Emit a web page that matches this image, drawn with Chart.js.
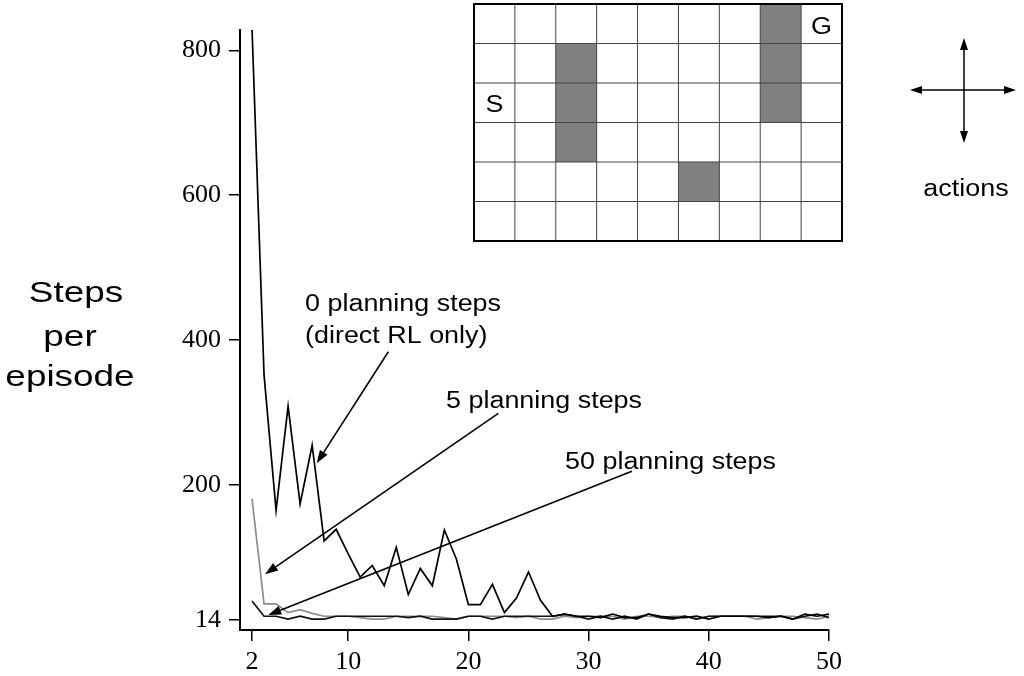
<!DOCTYPE html>
<html lang="en">
<head>
<meta charset="utf-8">
<title>Dyna maze: steps per episode</title>
<script src="https://cdn.jsdelivr.net/npm/chart.js"></script>
<style>
  html, body { margin: 0; padding: 0; background: #fff; }
  #wrap { width: 1024px; height: 676px; }
</style>
</head>
<body>
<div id="wrap"><canvas id="chart" width="1024" height="676"></canvas></div>

<script>
  // Episodes 2..50 (episode 1 left out, as in the book)
  const episodes = [];
  for (let e = 2; e <= 50; e++) episodes.push(e);

  // Steps per episode
  const zeroPlanning = [
    830, 352, 165, 309, 174, 255, 123, 139, 105, 73,
    89, 61, 114, 49, 85, 61, 138, 98, 35, 35,
    63, 24, 44, 80, 41, 19, 22, 19, 19, 17,
    22, 17, 17, 22, 19, 17, 17, 19, 15, 19,
    19, 19, 19, 17, 19, 15, 22, 19, 22
  ];
  const fivePlanning = [
    181, 36, 36, 24, 28, 23, 19, 19, 19, 17,
    15, 15, 19, 19, 19, 19, 17, 15, 19, 19,
    19, 19, 17, 19, 15, 15, 19, 17, 19, 19,
    19, 15, 19, 19, 17, 19, 19, 15, 19, 19,
    19, 19, 15, 17, 19, 19, 17, 15, 19
  ];
  const fiftyPlanning = [
    40, 19, 19, 15, 19, 15, 15, 19, 19, 19,
    19, 19, 19, 17, 19, 15, 15, 15, 19, 19,
    15, 19, 19, 19, 19, 19, 22, 19, 15, 19,
    15, 19, 15, 22, 17, 15, 19, 15, 19, 19,
    19, 19, 19, 19, 19, 15, 19, 22, 17
  ];

  const xTicks = [2, 10, 20, 30, 40, 50];
  const yTicks = [14, 200, 400, 600, 800];

  // Callouts: text anchor and arrow tail/tip, in data units
  const callouts = [
    { lines: ['0 planning steps', '(direct RL only)'], at: [6.41, 440],
      tail: [13.34, 384], tip: [7.38, 230] },
    { lines: ['5 planning steps'], at: [18.14, 306],
      tail: [22.49, 299], tip: [3.08, 77] },
    { lines: ['50 planning steps'], at: [28.04, 222],
      tail: [33.6, 219], tip: [3.35, 20.7] }
  ];

  // Gridworld inset
  const mazeCols = 9, mazeRows = 6;
  const mazeWalls = [[2, 1], [2, 2], [2, 3], [7, 0], [7, 1], [7, 2], [5, 4]];
  const mazeStart = [0, 2], mazeGoal = [8, 0];

  const SANS = '"Liberation Sans", Arial, Helvetica, sans-serif';
  const SERIF = '"Liberation Serif", "Times New Roman", serif';
  const STRETCH = 1.17;

  function wideText(ctx, text, x, y, size, sx, align) {
    ctx.save();
    ctx.font = size + 'px ' + SANS;
    ctx.fillStyle = '#000';
    ctx.textBaseline = 'alphabetic';
    ctx.textAlign = align;
    ctx.translate(x, y);
    ctx.scale(sx, 1);
    ctx.fillText(text, 0, 0);
    ctx.restore();
  }

  function arrow(ctx, x1, y1, x2, y2, len, half) {
    const a = Math.atan2(y2 - y1, x2 - x1);
    const bx = x2 - len * Math.cos(a), by = y2 - len * Math.sin(a);
    ctx.beginPath();
    ctx.moveTo(x1, y1);
    ctx.lineTo(bx, by);
    ctx.stroke();
    ctx.beginPath();
    ctx.moveTo(x2, y2);
    ctx.lineTo(bx + half * Math.sin(a), by - half * Math.cos(a));
    ctx.lineTo(bx - half * Math.sin(a), by + half * Math.cos(a));
    ctx.closePath();
    ctx.fill();
  }

  function drawMaze(ctx) {
    const left = 474, top = 4, w = 368, h = 237;
    const cw = w / mazeCols, ch = h / mazeRows;
    ctx.save();
    ctx.fillStyle = '#808080';
    mazeWalls.forEach(([c, r]) => ctx.fillRect(left + c * cw, top + r * ch, cw, ch));
    ctx.strokeStyle = '#444';
    ctx.lineWidth = 1;
    for (let c = 1; c < mazeCols; c++) {
      ctx.beginPath();
      ctx.moveTo(left + c * cw, top);
      ctx.lineTo(left + c * cw, top + h);
      ctx.stroke();
    }
    for (let r = 1; r < mazeRows; r++) {
      ctx.beginPath();
      ctx.moveTo(left, top + r * ch);
      ctx.lineTo(left + w, top + r * ch);
      ctx.stroke();
    }
    ctx.strokeStyle = '#000';
    ctx.lineWidth = 2;
    ctx.strokeRect(left, top, w, h);
    wideText(ctx, 'S', left + (mazeStart[0] + 0.5) * cw, top + mazeStart[1] * ch + 29, 23, STRETCH, 'center');
    wideText(ctx, 'G', left + (mazeGoal[0] + 0.5) * cw, top + mazeGoal[1] * ch + 30, 23, STRETCH, 'center');
    ctx.restore();

    // actions cross
    ctx.save();
    ctx.strokeStyle = '#000';
    ctx.fillStyle = '#000';
    ctx.lineWidth = 1.5;
    const cx = 964, cy = 90;
    arrow(ctx, cx, cy, cx - 54, cy, 12, 4);
    arrow(ctx, cx, cy, cx + 52, cy, 12, 4);
    arrow(ctx, cx, cy, cx, cy - 52, 12, 4);
    arrow(ctx, cx, cy, cx, cy + 53, 12, 4);
    ctx.restore();
    wideText(ctx, 'actions', 966, 196, 23, STRETCH, 'center');
  }

  const overlay = {
    id: 'overlay',
    afterDraw(chart) {
      const ctx = chart.ctx;
      const xs = chart.scales.x, ys = chart.scales.y;

      // y axis title
      wideText(ctx, 'Steps', 76, 302, 30, 1.23, 'center');
      wideText(ctx, 'per', 70, 346, 30, 1.23, 'center');
      wideText(ctx, 'episode', 70, 386, 30, 1.23, 'center');

      // callouts
      callouts.forEach(c => {
        const tx = xs.getPixelForValue(c.at[0]);
        const ty = ys.getPixelForValue(c.at[1]);
        c.lines.forEach((t, i) => wideText(ctx, t, tx, ty + i * 32, 23, STRETCH, 'left'));
        ctx.save();
        ctx.strokeStyle = '#000';
        ctx.fillStyle = '#000';
        ctx.lineWidth = 1.6;
        arrow(ctx,
          xs.getPixelForValue(c.tail[0]), ys.getPixelForValue(c.tail[1]),
          xs.getPixelForValue(c.tip[0]), ys.getPixelForValue(c.tip[1]), 13, 4.5);
        ctx.restore();
      });

      drawMaze(ctx);
    }
  };

  const pts = arr => episodes.map((e, i) => ({ x: e, y: arr[i] }));

  new Chart(document.getElementById('chart'), {
    type: 'line',
    data: {
      datasets: [
        { label: '0 planning steps', data: pts(zeroPlanning), borderColor: '#000', order: 1 },
        { label: '50 planning steps', data: pts(fiftyPlanning), borderColor: '#111', order: 2 },
        { label: '5 planning steps', data: pts(fivePlanning), borderColor: '#8c8c8c', order: 3 }
      ]
    },
    options: {
      responsive: false,
      animation: false,
      layout: { padding: { top: 30, right: 195, left: 0, bottom: 0 } },
      elements: {
        line: { borderWidth: 1.7, tension: 0, fill: false },
        point: { radius: 0, hoverRadius: 0 }
      },
      plugins: { legend: { display: false }, tooltip: { enabled: false } },
      scales: {
        x: {
          type: 'linear',
          min: 1,
          max: 50,
          afterBuildTicks: s => { s.ticks = xTicks.map(v => ({ value: v })); },
          afterFit: s => { s.height = 46; },
          grid: { drawOnChartArea: false, drawTicks: true, tickLength: 11, color: '#000', lineWidth: 1.5 },
          border: { display: true, color: '#000', width: 2 },
          ticks: { font: { family: SERIF, size: 26 }, color: '#000', padding: 6, maxRotation: 0, autoSkip: false }
        },
        y: {
          type: 'linear',
          min: 0,
          max: 828,
          afterBuildTicks: s => { s.ticks = yTicks.map(v => ({ value: v })); },
          afterFit: s => { s.width = 240; },
          grid: { drawOnChartArea: false, drawTicks: true, tickLength: 11, color: '#000', lineWidth: 1.5 },
          border: { display: true, color: '#000', width: 2 },
          ticks: { font: { family: SERIF, size: 26 }, color: '#000', padding: 8, autoSkip: false }
        }
      }
    },
    plugins: [overlay]
  });
</script>
</body>
</html>
